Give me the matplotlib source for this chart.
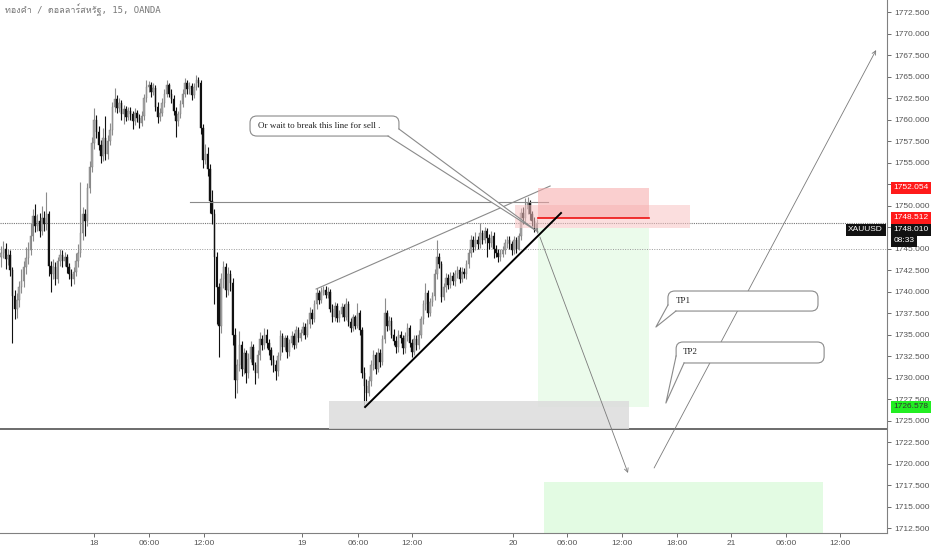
import matplotlib
matplotlib.use("Agg")
import matplotlib.pyplot as plt
from matplotlib import font_manager
from matplotlib.ft2font import FT2Font
from matplotlib.patches import Rectangle, FancyBboxPatch, Polygon
from matplotlib.transforms import blended_transform_factory
import numpy as np

# ราคาปิด 15 นาที (open = close ของแท่งก่อนหน้า)
first_open = 1744.0
closes = [
    1744.5, 1745.0, 1743.8, 1744.2, 1742.5, 1739.5, 1738.0,
    1739.0, 1740.5, 1741.2, 1742.8, 1743.9, 1744.8, 1746.5,
    1748.8, 1747.6, 1748.2, 1747.0, 1748.5, 1747.8, 1749.0,
    1743.0,
    1742.0, 1742.9, 1741.5, 1743.5, 1744.2, 1743.6, 1744.0, 1742.8, 1742.0, 1741.5, 1742.3, 1743.5,
    1744.5, 1746.8, 1749.0, 1748.2,
    1752.0, 1754.5, 1757.3, 1760.0, 1758.6,
    1757.0, 1755.8, 1757.8, 1756.0, 1757.5, 1758.8,
    1761.5, 1762.4,
    1761.3, 1761.9, 1760.7, 1761.2, 1760.3, 1761.0, 1760.6, 1759.8, 1760.8, 1760.2, 1759.6, 1760.4,
    1762.5, 1763.8, 1764.0, 1763.2, 1763.7,
    1761.5, 1760.3, 1760.8, 1761.9,
    1763.0, 1764.0, 1763.0, 1762.4,
    1761.0, 1759.8, 1760.6, 1761.8,
    1763.0, 1764.2, 1763.5, 1763.9, 1762.9, 1763.8, 1764.6, 1764.3,
    1759.0, 1755.3,
    1756.0, 1754.2, 1750.5,
    1749.0, 1744.0, 1740.5, 1736.0,
    1741.5, 1742.8, 1740.2, 1742.0, 1741.0,
    1735.0, 1729.7,
    1731.5, 1733.8, 1731.0, 1732.8, 1730.5, 1732.2, 1733.5, 1731.4, 1730.5, 1732.6, 1734.5,
    1733.8, 1735.0, 1734.0, 1733.2, 1732.0, 1731.5, 1730.8, 1732.5, 1734.8, 1733.6, 1734.6, 1733.0,
    1734.0, 1734.8, 1733.8, 1735.5, 1734.6, 1735.2, 1735.9, 1735.0, 1736.2,
    1737.5, 1736.8, 1738.5, 1739.8, 1739.0, 1740.0, 1740.2, 1739.6, 1740.0,
    1738.0, 1737.0, 1738.3, 1736.9, 1737.4,
    1738.2, 1737.0, 1738.6, 1736.5, 1735.8, 1737.0, 1736.0, 1737.5, 1735.5,
    1730.5, 1729.0, 1728.2,
    1729.6, 1731.5, 1732.6, 1731.0, 1732.8,
    1731.8, 1734.5, 1737.5, 1736.0, 1736.6,
    1735.0, 1734.2, 1733.5, 1735.0, 1734.6, 1733.4, 1734.8,
    1735.8, 1734.0, 1733.0, 1734.5, 1733.8, 1735.0,
    1736.8, 1738.5, 1739.8, 1737.5, 1738.8, 1739.5,
    1742.0, 1744.0, 1743.2, 1739.4,
    1740.5, 1741.6, 1740.8, 1741.8, 1741.2, 1742.0, 1742.5, 1741.5, 1742.3, 1742.0, 1743.2,
    1744.5, 1746.0, 1745.2, 1746.0,
    1745.5, 1746.8, 1746.0, 1747.0, 1746.2, 1745.6, 1746.5, 1745.0,
    1744.5, 1744.0, 1744.4, 1744.8,
    1745.6, 1746.0, 1745.5, 1744.8, 1746.0, 1745.0, 1746.4,
    1749.1, 1748.5, 1749.6, 1750.3, 1749.0, 1748.2,
    1747.2, 1748.01,
]
highs = [
    1745.3, 1745.9, 1745.6, 1744.9, 1744.8, 1742.9, 1740.2,
    1739.8, 1741.2, 1742.6, 1743.5, 1745.2, 1745.8, 1748.0,
    1749.6, 1750.2, 1749.0, 1749.1, 1750.0, 1749.4, 1751.6,
    1749.4,
    1743.6, 1743.8, 1743.4, 1744.0, 1745.0, 1744.8, 1744.6, 1744.4, 1743.3, 1742.6, 1742.9, 1744.5,
    1745.5, 1752.7, 1749.8, 1749.6,
    1752.6, 1755.2, 1758.0, 1761.3, 1760.5,
    1759.2, 1757.6, 1759.0, 1760.4, 1758.2, 1759.6,
    1762.0, 1763.7,
    1762.8, 1762.5, 1762.3, 1761.7, 1761.6, 1761.5, 1761.4, 1761.0, 1761.3, 1761.1, 1760.6, 1761.0,
    1763.0, 1764.6, 1764.5, 1764.4, 1764.2,
    1764.0, 1762.0, 1761.3, 1762.5,
    1763.5, 1764.6, 1764.3, 1763.5,
    1762.8, 1761.5, 1761.0, 1762.3,
    1763.5, 1764.8, 1764.6, 1764.4, 1764.3, 1764.2, 1765.2, 1765.0,
    1764.6, 1759.5,
    1757.2, 1756.8, 1754.8,
    1751.8, 1749.6, 1744.6, 1741.0,
    1742.2, 1743.6, 1743.3, 1742.9, 1742.5,
    1741.6, 1735.8,
    1732.2, 1735.4, 1734.2, 1733.4, 1733.2, 1732.8, 1734.2, 1733.9, 1731.8, 1733.2, 1735.3,
    1735.0, 1735.8, 1735.6, 1734.5, 1733.6, 1732.6, 1732.0, 1733.0, 1735.5, 1735.2, 1735.0, 1734.9,
    1734.5, 1735.4, 1735.2, 1736.0, 1735.9, 1735.6, 1736.4, 1736.3, 1736.8,
    1738.2, 1738.0, 1739.0, 1740.4, 1740.2, 1740.5, 1740.6, 1740.6, 1740.5,
    1740.3, 1738.5, 1738.8, 1738.7, 1737.9,
    1738.7, 1738.6, 1739.3, 1738.9, 1736.9, 1737.4, 1737.3, 1738.7, 1737.8,
    1735.9, 1731.2, 1729.8,
    1730.2, 1732.0, 1733.2, 1733.0, 1733.4,
    1733.3, 1735.0, 1739.2, 1737.9, 1737.2,
    1737.0, 1735.6, 1734.8, 1735.5, 1735.4, 1735.0, 1735.3,
    1736.3, 1736.1, 1734.5, 1735.0, 1734.9, 1735.5,
    1737.2, 1739.0, 1741.0, 1740.2, 1739.3, 1740.0,
    1742.6, 1746.0, 1744.5, 1743.6,
    1741.0, 1742.1, 1742.0, 1742.3, 1742.3, 1742.5, 1743.0, 1742.9, 1742.8, 1742.7, 1743.7,
    1745.0, 1746.6, 1746.4, 1746.9,
    1746.5, 1748.0, 1747.2, 1747.5, 1747.4, 1746.7, 1747.0, 1746.9,
    1745.4, 1745.0, 1744.9, 1745.3,
    1746.1, 1746.5, 1746.4, 1745.9, 1746.4, 1746.3, 1746.8,
    1749.7, 1749.8, 1750.9, 1751.0, 1750.6, 1749.4,
    1748.7, 1748.4,
]
lows = [
    1742.9, 1743.9, 1742.6, 1743.1, 1741.8, 1734.0, 1736.8,
    1736.9, 1738.2, 1739.8, 1740.5, 1742.0, 1743.2, 1744.2,
    1745.9, 1746.9, 1747.0, 1746.3, 1746.6, 1747.0, 1747.2,
    1741.8,
    1740.0, 1741.4, 1740.8, 1741.0, 1743.0, 1742.9, 1743.0, 1742.2, 1741.4, 1740.6, 1740.9, 1741.8,
    1742.8, 1744.0, 1746.0, 1746.4,
    1747.6, 1751.4, 1753.9, 1756.6, 1757.8,
    1756.4, 1755.0, 1755.2, 1755.3, 1755.4, 1757.0,
    1758.2, 1760.9,
    1760.8, 1760.9, 1760.0, 1759.5, 1759.8, 1759.9, 1760.0, 1758.9, 1759.4, 1759.7, 1759.0, 1759.2,
    1760.0, 1762.0, 1763.2, 1762.6, 1762.8,
    1761.0, 1759.6, 1759.8, 1760.4,
    1761.5, 1762.6, 1762.6, 1761.9,
    1760.5, 1758.0, 1759.3, 1760.2,
    1761.4, 1762.6, 1763.0, 1763.0, 1762.3, 1762.5, 1763.4, 1763.8,
    1758.3, 1754.4,
    1754.8, 1753.4, 1749.1,
    1747.8, 1738.5, 1736.2, 1732.4,
    1735.2, 1740.4, 1739.4, 1739.6, 1740.1,
    1733.8, 1727.6,
    1728.2, 1730.8, 1730.2, 1730.4, 1729.4, 1729.9, 1731.8, 1730.9, 1729.3, 1730.0, 1732.0,
    1733.2, 1733.3, 1733.4, 1732.6, 1731.4, 1730.6, 1729.7, 1730.2, 1732.0, 1733.0, 1733.2, 1732.3,
    1732.5, 1733.5, 1733.3, 1733.4, 1734.1, 1734.2, 1734.9, 1734.5, 1734.7,
    1735.8, 1736.2, 1736.4, 1738.0, 1738.6, 1738.7, 1739.6, 1739.2, 1739.2,
    1737.6, 1736.5, 1736.6, 1736.4, 1736.5,
    1737.0, 1736.6, 1736.7, 1736.0, 1735.3, 1735.4, 1735.6, 1735.8, 1735.0,
    1730.0, 1726.6, 1727.2,
    1727.8, 1729.0, 1730.9, 1730.4, 1730.6,
    1731.2, 1731.4, 1734.0, 1735.4, 1735.5,
    1734.6, 1733.8, 1732.8, 1733.0, 1734.0, 1732.7, 1732.9,
    1734.2, 1733.6, 1732.4, 1732.6, 1733.2, 1733.3,
    1734.6, 1736.2, 1737.9, 1737.0, 1737.1, 1738.3,
    1739.0, 1741.5, 1742.7, 1738.8,
    1739.0, 1740.0, 1740.3, 1740.4, 1740.8, 1740.7, 1741.6, 1741.0, 1741.1, 1741.6, 1741.5,
    1742.7, 1744.0, 1744.6, 1744.8,
    1744.9, 1745.1, 1745.5, 1745.6, 1744.0, 1745.0, 1745.2, 1743.9,
    1744.0, 1743.4, 1743.5, 1744.0,
    1744.4, 1745.1, 1745.0, 1744.2, 1744.4, 1744.5, 1744.8,
    1746.0, 1747.8, 1748.0, 1749.0, 1748.3, 1747.6,
    1746.9, 1746.8,
]

tick_pos = [41.0, 65.2, 89.4, 132.6, 157.3, 181.1, 225.6, 249.3, 273.6, 297.8, 321.6, 345.8, 369.6]
tick_labels = ["18", "06:00", "12:00", "19", "06:00", "12:00", "20", "06:00", "12:00",
               "18:00", "21", "06:00", "12:00"]
price_ticks = np.arange(1712.5, 1773.0, 2.5)

stop_price = 1752.054
entry_price = 1748.512
last_price = 1748.010
target_price = 1726.578
support_price = 1724.0
dotted_price = 1745.0
title = "ทองคำ / ดอลลาร์สหรัฐ, 15, OANDA"
note = "Or wait to break this line for sell ."

# หาฟอนต์ที่มีอักษรไทย
thai_fams = []
for f in font_manager.fontManager.ttflist:
    try:
        if FT2Font(f.fname).get_char_index(ord("ค")) and f.name not in thai_fams:
            thai_fams.append(f.name)
    except Exception:
        pass
title_fams = ["DejaVu Sans Mono"] + thai_fams + ["DejaVu Sans"]

# ---------------------------------------------------------------
fig = plt.figure(figsize=(9.32, 5.5), dpi=100)
ax = fig.add_axes([0, 17 / 550, 887 / 932, 533 / 550])
ax.set_xlim(-0.44, 390.3)
ax.set_ylim(1711.92, 1773.9)

o = np.array([first_open] + closes[:-1])
c = np.array(closes)
h = np.array(highs)
l = np.array(lows)
x = np.arange(len(c))
up = c >= o

ax.vlines(x[up], l[up], h[up], color="#8c8c8c", lw=0.8, zorder=3)
ax.vlines(x[~up], l[~up], h[~up], color="#111111", lw=0.8, zorder=3)
body_lo = np.minimum(o, c)
body_h = np.maximum(np.abs(c - o), 0.08)
ax.bar(x[up], body_h[up], bottom=body_lo[up], width=0.62, color="#a6a6a6",
       edgecolor="#7a7a7a", lw=0.3, zorder=3)
ax.bar(x[~up], body_h[~up], bottom=body_lo[~up], width=0.62, color="#111111",
       edgecolor="#111111", lw=0.3, zorder=3)

# เส้นระดับราคา
ax.axhline(last_price, color="#777777", lw=0.8, ls=(0, (1, 1)), zorder=2)
ax.axhline(dotted_price, color="#9a9a9a", lw=0.7, ls=(0, (1, 1.5)), zorder=2)
ax.axhline(support_price, color="#444444", lw=1.1, zorder=2)
ax.plot([83.3, 241.0], [1750.41, 1750.41], color="#8a8a8a", lw=0.8, zorder=4)

# กล่องโซน
ax.add_patch(Rectangle((144.5, support_price), 132.2, 3.26, fc="#dcdcdc", ec="none",
                       alpha=0.85, zorder=4))
ax.add_patch(Rectangle((226.4, 1747.38), 77.1, 2.68, fc="#f9c4c4", ec="none",
                       alpha=0.55, zorder=5))
ax.add_patch(Rectangle((236.6, entry_price), 48.9, stop_price - entry_price, fc="#f6a9a9",
                       ec="none", alpha=0.55, zorder=5))
ax.add_patch(Rectangle((236.6, target_price), 48.9, 1747.38 - target_price, fc="#e6fbe6",
                       ec="none", alpha=0.8, zorder=1))
ax.add_patch(Rectangle((239.2, 1711.0), 122.9, 1717.85 - 1711.0, fc="#e3fbe3",
                       ec="none", zorder=1))
ax.plot([236.6, 285.5], [entry_price, entry_price], color="#ee1111", lw=1.2, zorder=6)

# เส้นแนวโน้ม
ax.plot([138.8, 241.9], [1740.29, 1752.27], color="#8a8a8a", lw=0.8, zorder=4)
ax.plot([160.4, 246.7], [1726.57, 1749.13], color="#000000", lw=1.4, zorder=6)

# ลูกศร
arrow_kw = dict(arrowstyle="->", color="#7a7a7a", lw=0.6, shrinkA=0, shrinkB=0, mutation_scale=7)
ax.annotate("", xy=(276.2, 1718.90), xytext=(237.4, 1746.34), arrowprops=arrow_kw, zorder=6)
ax.annotate("", xy=(385.5, 1768.08), xytext=(287.7, 1719.48), arrowprops=arrow_kw, zorder=6)


def callout(x0, x1, y0, y1, base1, base2, tip, text, tx, ty):
    box = FancyBboxPatch((x0, y0), x1 - x0, y1 - y0,
                         boxstyle="round,pad=0,rounding_size=3",
                         mutation_aspect=2.27 / 8.6, fc="white", ec="#8a8a8a",
                         lw=0.8, zorder=7)
    ax.add_patch(box)
    ax.add_patch(Polygon([base1, tip, base2], closed=True, fc="white", ec="none", zorder=8))
    ax.plot([base1[0], tip[0], base2[0]], [base1[1], tip[1], base2[1]],
            color="#8a8a8a", lw=0.8, zorder=9)
    ax.text(tx, ty, text, fontsize=6.5, family=["Liberation Serif", "DejaVu Serif"],
            color="#222222", ha="left", va="center", zorder=10)


callout(109.7, 175.3, 1758.08, 1760.41, (170.5, 1758.08), (175.3, 1758.9),
        (236.6, 1746.92), note, 113.2, 1759.24)
callout(293.8, 359.9, 1737.73, 1740.06, (293.8, 1738.43), (297.3, 1737.73),
        (288.5, 1735.87), "TP1", 297.4, 1738.90)
callout(297.4, 362.6, 1731.69, 1734.13, (297.4, 1732.50), (300.9, 1731.69),
        (292.9, 1727.03), "TP2", 300.4, 1732.97)

# แกน
for s in ["left", "top"]:
    ax.spines[s].set_visible(False)
ax.spines["right"].set_color("#808080")
ax.spines["bottom"].set_color("#808080")
ax.yaxis.tick_right()
ax.set_yticks(price_ticks)
ax.set_yticklabels([f"{p:.3f}" for p in price_ticks])
ax.set_xticks(tick_pos)
ax.set_xticklabels(tick_labels)
ax.tick_params(axis="both", labelsize=6, colors="#555555", length=3, width=0.6, pad=2)
for lab in ax.get_yticklabels() + ax.get_xticklabels():
    lab.set_family(["Liberation Sans", "DejaVu Sans"])

# ป้ายราคา
tr = blended_transform_factory(ax.transAxes, ax.transData)
badge = dict(fontsize=6, family=["Liberation Sans", "DejaVu Sans"], va="center",
             transform=tr, clip_on=False, zorder=20)
ax.text(1.0075, stop_price, f"{stop_price:.3f}", color="white", ha="left",
        bbox=dict(boxstyle="square,pad=0.3", fc="#ff1a1a", ec="none"), **badge)
ax.text(1.0075, entry_price + 0.05, f"{entry_price:.3f}", color="white", ha="left",
        bbox=dict(boxstyle="square,pad=0.3", fc="#ff1a1a", ec="none"), **badge)
ax.text(1.0075, last_price - 0.8, f"{last_price:.3f}", color="white", ha="left",
        bbox=dict(boxstyle="square,pad=0.3", fc="#111111", ec="none"), **badge)
ax.text(0.9955, last_price - 0.8, "XAUUSD", color="white", ha="right",
        bbox=dict(boxstyle="square,pad=0.3", fc="#111111", ec="none"), **badge)
ax.text(1.0075, last_price - 2.1, "08:33", color="white", ha="left",
        bbox=dict(boxstyle="square,pad=0.3", fc="#111111", ec="none"), **badge)
ax.text(1.0075, target_price, f"{target_price:.3f}", color="#333333", ha="left",
        bbox=dict(boxstyle="square,pad=0.3", fc="#22ee22", ec="none"), **badge)

fig.text(5 / 932, 1 - 10 / 550, title, fontsize=6.5, color="#777777", va="center",
         family=title_fams)

fig.savefig("out.png", dpi=100, facecolor="white")
